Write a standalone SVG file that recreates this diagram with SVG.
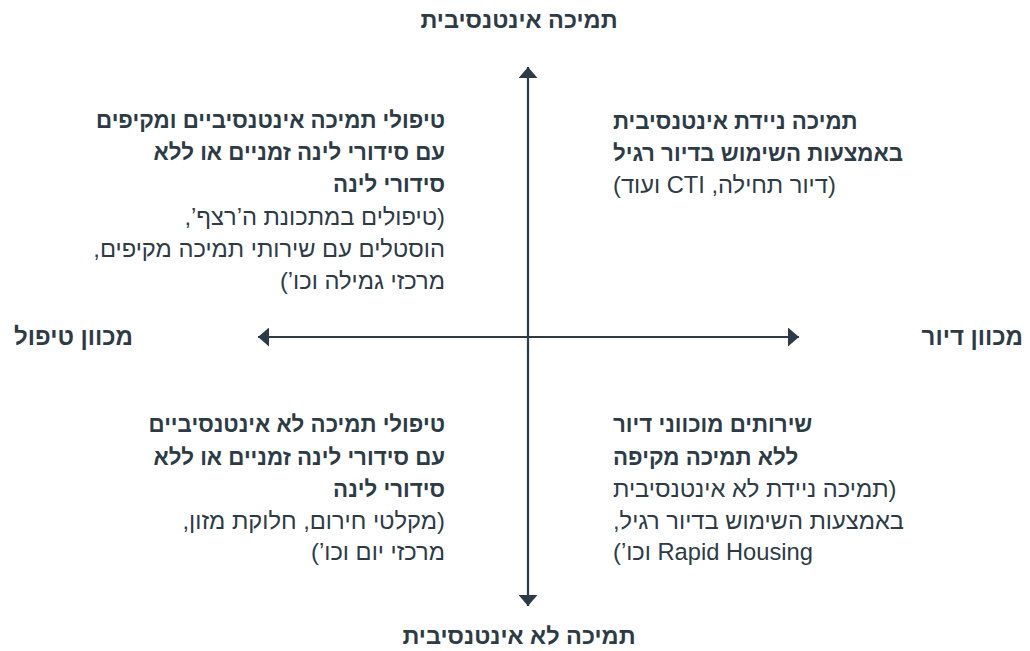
<svg xmlns="http://www.w3.org/2000/svg" width="1030" height="651" viewBox="0 0 1030 651">
  <style>
    text { font-family: "Liberation Sans", Arial, sans-serif; fill: #2d3b46; direction: rtl; unicode-bidi: embed; }
    .axis-title { font-size: 23.5px; font-weight: 700; }
    .side-title { font-size: 24px; font-weight: 700; }
    .head { font-size: 22.3px; font-weight: 700; }
    .body { font-size: 23.7px; font-weight: 400; }
    .axis { stroke: #2d3b46; stroke-width: 2.2; fill: none; }
  </style>
  <defs>
    <marker id="arrowhead" viewBox="0 0 11 19" refX="11" refY="9.5" markerWidth="11" markerHeight="19" markerUnits="userSpaceOnUse" orient="auto">
      <path d="M0,0 L11,9.5 L0,19 Z" fill="#2d3b46"/>
    </marker>
  </defs>

  <rect width="1030" height="651" fill="#ffffff"/>

  <!-- axes -->
  <g id="connectors">
    <line class="axis" x1="528" y1="337" x2="528" y2="67" marker-end="url(#arrowhead)"/>
    <line class="axis" x1="528" y1="337" x2="528" y2="606" marker-end="url(#arrowhead)"/>
    <line class="axis" x1="528" y1="337" x2="258" y2="337" marker-end="url(#arrowhead)"/>
    <line class="axis" x1="528" y1="337" x2="799" y2="337" marker-end="url(#arrowhead)"/>
  </g>

  <!-- axis labels -->
  <g id="label-top">
    <text class="axis-title" x="519" y="28" text-anchor="middle">תמיכה אינטנסיבית</text>
  </g>
  <g id="label-bottom">
    <text class="axis-title" x="519" y="644" text-anchor="middle">תמיכה לא אינטנסיבית</text>
  </g>
  <g id="label-left">
    <text class="side-title" x="133" y="345" text-anchor="start">מכוון טיפול</text>
  </g>
  <g id="label-right">
    <text class="side-title" x="1023" y="345" text-anchor="start">מכוון דיור</text>
  </g>

  <!-- quadrant: top left -->
  <g id="quadrant-top-left">
    <text class="head" x="445" y="128" text-anchor="start">טיפולי תמיכה אינטנסיביים ומקיפים</text>
    <text class="head" x="445" y="160" text-anchor="start">עם סידורי לינה זמניים או ללא</text>
    <text class="head" x="445" y="192" text-anchor="start">סידורי לינה</text>
    <text class="body" x="445" y="225" text-anchor="start">(טיפולים במתכונת ה’רצף’,</text>
    <text class="body" x="445" y="257" text-anchor="start">הוסטלים עם שירותי תמיכה מקיפים,</text>
    <text class="body" x="445" y="289" text-anchor="start">מרכזי גמילה וכו’)</text>
  </g>

  <!-- quadrant: top right -->
  <g id="quadrant-top-right">
    <text class="head" x="613" y="129" text-anchor="end">תמיכה ניידת אינטנסיבית</text>
    <text class="head" x="613" y="161" text-anchor="end">באמצעות השימוש בדיור רגיל</text>
    <text class="body" x="613" y="193" text-anchor="end">(דיור תחילה, CTI ועוד)</text>
  </g>

  <!-- quadrant: bottom left -->
  <g id="quadrant-bottom-left">
    <text class="head" x="445" y="432" text-anchor="start">טיפולי תמיכה לא אינטנסיביים</text>
    <text class="head" x="445" y="465" text-anchor="start">עם סידורי לינה זמניים או ללא</text>
    <text class="head" x="445" y="497" text-anchor="start">סידורי לינה</text>
    <text class="body" x="445" y="529" text-anchor="start">(מקלטי חירום, חלוקת מזון,</text>
    <text class="body" x="445" y="560" text-anchor="start">מרכזי יום וכו’)</text>
  </g>

  <!-- quadrant: bottom right -->
  <g id="quadrant-bottom-right">
    <text class="head" x="613" y="432" text-anchor="end">שירותים מוכווני דיור</text>
    <text class="head" x="613" y="465" text-anchor="end">ללא תמיכה מקיפה</text>
    <text class="body" x="613" y="497" text-anchor="end">(תמיכה ניידת לא אינטנסיבית</text>
    <text class="body" x="613" y="529" text-anchor="end">באמצעות השימוש בדיור רגיל,</text>
    <text class="body" x="613" y="560" text-anchor="end">Rapid Housing וכו’)</text>
  </g>
</svg>
